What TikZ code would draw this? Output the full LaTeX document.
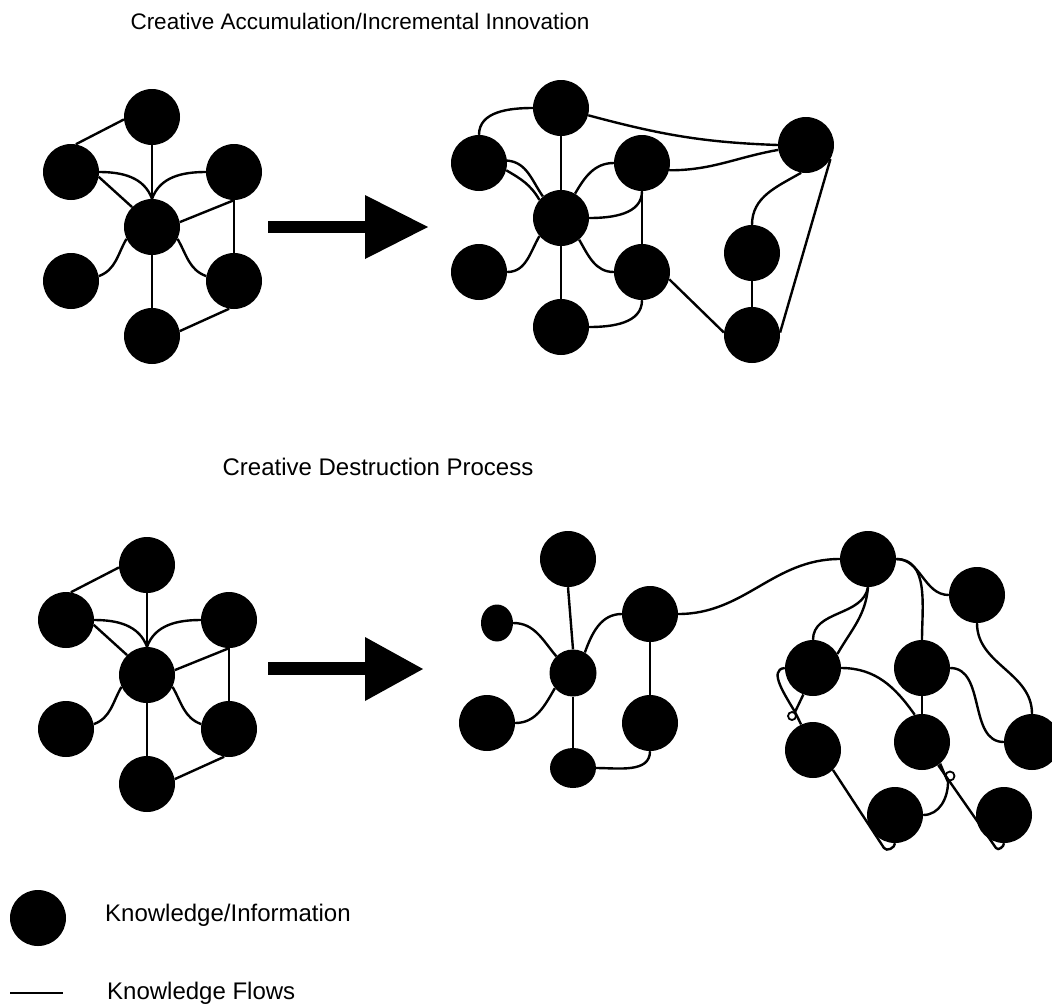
\documentclass[tikz,border=0pt]{standalone}
\usepackage{fontspec}
\setmainfont{Liberation Sans}
\usetikzlibrary{shapes.geometric}
\begin{document}
\begin{tikzpicture}[x=1pt,y=-1pt,
    knode/.style={circle,fill=black,inner sep=0pt,minimum size=56pt},
    kellipse/.style={ellipse,fill=black,inner sep=0pt},
    flow/.style={line width=2.4pt},
    titletext/.style={font=\fontsize{22.5}{27}\selectfont,inner sep=0pt},
    legendtext/.style={font=\fontsize{24}{29}\selectfont,inner sep=0pt,anchor=west}]
    \useasboundingbox (0,0) rectangle (1052,1007);

    % Titles
    \node[titletext] (title1) at (360,21) {Creative Accumulation/Incremental Innovation};
    \node[titletext,font=\fontsize{24}{29}\selectfont] (title2) at (378,467) {Creative Destruction Process};

    % Starting network (same in both rows)
    \foreach \p/\dx/\dy in {a/0/0,c/-5/448}{
      \begin{scope}[shift={(\dx,\dy)}]
        \node[knode] (\p top) at (152,117) {};
        \node[knode] (\p ul) at (71,172) {};
        \node[knode] (\p ur) at (234,172) {};
        \node[knode] (\p mid) at (152,227) {};
        \node[knode] (\p ll) at (71,281) {};
        \node[knode] (\p lr) at (234,281) {};
        \node[knode] (\p bot) at (152,336) {};
        \draw[flow] (\p ul.80) -- (\p top.185);
        \draw[flow] (\p top) -- (\p mid);
        \draw[flow] (\p ul.-10) -- (\p mid.135);
        \draw[flow] (\p ul.east) to[out=0,in=110] (\p mid.north);
        \draw[flow] (\p ur.west) to[out=180,in=70] (\p mid.north);
        \draw[flow] (\p mid.10) -- (\p ur.south);
        \draw[flow] (\p ur) -- (\p lr);
        \draw[flow] (\p mid.205) to[out=240,in=20] (\p ll.10);
        \draw[flow] (\p mid.-25) to[out=-60,in=160] (\p lr.170);
        \draw[flow] (\p mid) -- (\p bot);
        \draw[flow] (\p bot.10) -- (\p lr.-100);
      \end{scope}
    }

    % Big arrows
    \fill (268,221) rectangle (366,233);
    \fill (365,195) -- (428,227) -- (365,259) -- cycle;
    \fill (268,662) rectangle (366,675);
    \fill (365,637) -- (423,669) -- (365,701) -- cycle;

    % Grown network (top right)
    \node[knode] (btop) at (561,108) {};
    \node[knode] (bul) at (479,163) {};
    \node[knode] (bmid) at (561,218) {};
    \node[knode] (bur) at (642,163) {};
    \node[knode] (bll) at (479,272) {};
    \node[knode] (blr) at (642,272) {};
    \node[knode] (bbot) at (561,327) {};
    \node[knode] (bfar) at (806,145) {};
    \node[knode] (bside) at (752,253) {};
    \node[knode] (bcorner) at (752,335) {};
    \draw[flow] (bul.north) to[out=90,in=180] (btop.west);
    \draw[flow] (btop) -- (bmid);
    \draw[flow] (btop.-15) to[out=-15,in=178] (bfar.west);
    \draw[flow] (bul.5) to[out=-5,in=125] (bmid.130);
    \draw[flow] (bul.-15) to[out=-30,in=120] (bmid.140);
    \draw[flow] (bmid.60) to[out=60,in=180] (bur.west);
    \draw[flow] (bur.-15) to[out=0,in=190] (bfar.190);
    \draw[flow] (bmid.east) to[out=0,in=-90] (bur.south);
    \draw[flow] (bur) -- (blr);
    \draw[flow] (bmid.-140) to[out=-120,in=0] (bll.east);
    \draw[flow] (bmid.-50) to[out=-60,in=180] (blr.west);
    \draw[flow] (bmid) -- (bbot);
    \draw[flow] (bbot.east) to[out=0,in=-90] (blr.south);
    \draw[flow] (blr.-15) -- (bcorner.175);
    \draw[flow] (bfar.-100) to[out=-150,in=90] (bside.north);
    \draw[flow] (bside) -- (bcorner);
    \draw[flow] (bfar.-30) -- (bcorner.5);

    % Broken up network (bottom right)
    \node[knode] (dtop) at (568,559) {};
    \node[kellipse,minimum width=32pt,minimum height=37pt] (dsmall) at (497,623) {};
    \node[knode,minimum size=47pt] (dmid) at (573,673) {};
    \node[knode] (dur) at (650,614) {};
    \node[knode] (dll) at (487,723) {};
    \node[knode] (dlr) at (650,723) {};
    \node[kellipse,minimum width=46pt,minimum height=40pt] (dbot) at (573,768) {};
    \node[knode] (hub) at (868,559) {};
    \node[knode] (hubr) at (977,595) {};
    \node[knode] (na) at (813,668) {};
    \node[knode] (nb) at (922,668) {};
    \node[knode] (nc) at (813,750) {};
    \node[knode] (nd) at (922,742) {};
    \node[knode] (ne) at (1032,742) {};
    \node[knode] (nf) at (895,815) {};
    \node[knode] (ng) at (1004,815) {};
    \coordinate (knot1) at (795,712);
    \coordinate (knot2) at (948,782);
    \coordinate (hook1) at (884,848);
    \coordinate (hook2) at (996,848);

    \draw[flow] (dtop.south) -- (dmid.north);
    \draw[flow] (dsmall.east) to[out=0,in=130] (dmid.135);
    \draw[flow] (dmid.60) to[out=70,in=180] (dur.west);
    \draw[flow] (dur.east) to[out=0,in=180] (hub.west);
    \draw[flow] (dur) -- (dlr);
    \draw[flow] (dmid.-140) to[out=-120,in=0] (dll.east);
    \draw[flow] (dmid) -- (dbot);
    \draw[flow] (dbot.east) to[out=0,in=-90] (dlr.south);
    \draw[flow] (hub.east) to[out=0,in=180] (hubr.west);
    \draw[flow] (hub.east) to[out=0,in=90] (nb.north);
    \draw[flow] (hub.south) to[out=-100,in=90] (na.north);
    \draw[flow] (hub.south) to[out=-95,in=60] (na.30);
    \draw[flow] (hubr.south) to[out=-90,in=90] (ne.north);
    \draw[flow] (na.east) to[out=0,in=125] (nd.105);
    \draw[flow] (nb.east) to[out=0,in=180] (ne.west);
    \draw[flow] (nb) -- (nd);
    \draw[flow] (na.west) to[out=185,in=120] (knot1);
    \draw[flow] (na.-110) -- (knot1);
    \draw[flow] (knot1) -- (nc.115);
    \draw[flow,line width=1.8pt] (792,716) circle (4pt);
    \draw[flow] (nc.-45) -- (hook1) to[out=-57,in=-90] (nf.south);
    \draw[flow] (nf.east) to[out=0,in=-90] (knot2) -- (nd.-50);
    \draw[flow,line width=1.8pt] (950,776) circle (4.5pt);
    \draw[flow] (nd.-55) -- (hook2) to[out=-57,in=-90] (ng.south);

    % Legend
    \node[knode] (legdot) at (38,918) {};
    \node[legendtext] (legdottext) at (105,915) {Knowledge/Information};
    \coordinate (legleft) at (10,993);
    \coordinate (legright) at (63,993);
    \draw[flow] (legleft) -- (legright);
    \node[legendtext] (legflowtext) at (107,993) {Knowledge Flows};
\end{tikzpicture}
\end{document}
